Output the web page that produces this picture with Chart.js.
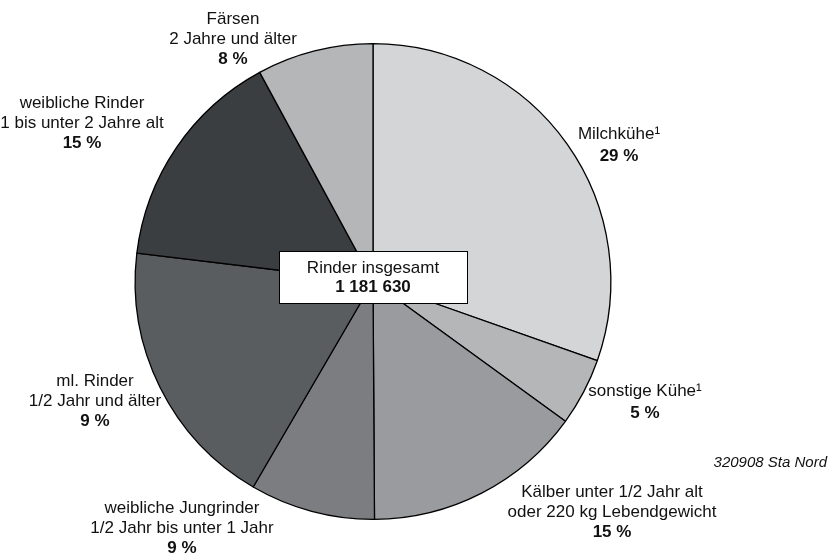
<!DOCTYPE html>
<html>
<head>
<meta charset="utf-8">
<script src="https://cdn.jsdelivr.net/npm/chart.js@4/dist/chart.umd.min.js"></script>
<style>
  html, body { margin: 0; padding: 0; background: #ffffff; }
  #wrap { width: 830px; height: 556px; position: relative; }
</style>
</head>
<body>
<div id="wrap"><canvas id="c" width="830" height="556"></canvas></div>
<script>
// ---- data ----
const categories = [
  'Milchkühe¹',
  'sonstige Kühe¹',
  'Kälber unter 1/2 Jahr alt oder 220 kg Lebendgewicht',
  'weibliche Jungrinder 1/2 Jahr bis unter 1 Jahr',
  'ml. Rinder 1/2 Jahr und älter',
  'weibliche Rinder 1 bis unter 2 Jahre alt',
  'Färsen 2 Jahre und älter'
];
const labelLines = [
  ['Milchkühe¹'],
  ['sonstige Kühe¹'],
  ['Kälber unter 1/2 Jahr alt', 'oder 220 kg Lebendgewicht'],
  ['weibliche Jungrinder', '1/2 Jahr bis unter 1 Jahr'],
  ['ml. Rinder', '1/2 Jahr und älter'],
  ['weibliche Rinder', '1 bis unter 2 Jahre alt'],
  ['Färsen', '2 Jahre und älter']
];
const sliceShares = [30.4, 4.6, 14.9, 8.5, 18.5, 15.2, 7.9];
const percentLabels = ['29 %', '5 %', '15 %', '9 %', '9 %', '15 %', '8 %'];
const totalTitle = 'Rinder insgesamt';
const totalValue = '1 181 630';
const sourceNote = '320908 Sta Nord';

// ---- styles / layout ----
const sliceColors = ['#d4d5d7', '#b4b6b8', '#999b9e', '#7c7d80', '#5a5d60', '#3b3e41', '#b4b6b8'];
const FONT = '"Liberation Sans", Arial, sans-serif';
const FS = 17;
// label anchor: [centerX, firstLineCenterY, lineHeight]
const labelAnchors = [
  [619, 134, 22],
  [645, 391, 22],
  [612, 492, 20],
  [182, 508, 20],
  [95, 381, 20],
  [82, 103, 20],
  [233, 19, 20]
];

const labelPlugin = {
  id: 'labels',
  afterDraw(chart) {
    const ctx = chart.ctx;
    ctx.save();
    ctx.fillStyle = '#111';
    ctx.textAlign = 'center';
    ctx.textBaseline = 'middle';
    labelLines.forEach((lines, i) => {
      const [x, y, lh] = labelAnchors[i];
      ctx.font = FS + 'px ' + FONT;
      lines.forEach((t, k) => ctx.fillText(t, x, y + k * lh));
      ctx.font = 'bold ' + FS + 'px ' + FONT;
      ctx.fillText(percentLabels[i], x, y + lines.length * lh);
    });
    // center box
    const meta = chart.getDatasetMeta(0);
    const arc = meta.data[0];
    const cx = arc.x, cy = arc.y;
    const bw = 188, bh = 52;
    const bx = Math.round(cx - bw / 2) + 0.5, by = Math.round(cy - 31) + 0.5;
    ctx.fillStyle = '#ffffff';
    ctx.fillRect(bx, by, bw, bh);
    ctx.strokeStyle = '#000';
    ctx.lineWidth = 1;
    ctx.strokeRect(bx, by, bw, bh);
    ctx.fillStyle = '#111';
    ctx.font = FS + 'px ' + FONT;
    ctx.fillText(totalTitle, cx, by + 17);
    ctx.font = 'bold ' + FS + 'px ' + FONT;
    ctx.fillText(totalValue, cx, by + 36);
    // source note
    ctx.font = 'italic 15px ' + FONT;
    ctx.textAlign = 'right';
    ctx.fillText(sourceNote, 827, 463);
    ctx.restore();
  }
};

new Chart(document.getElementById('c'), {
  type: 'pie',
  data: {
    labels: categories,
    datasets: [{
      data: sliceShares,
      backgroundColor: sliceColors,
      borderColor: '#000000',
      borderWidth: 1.3
    }]
  },
  options: {
    responsive: false,
    animation: false,
    layout: { padding: { top: 43, bottom: 36, left: 0, right: 84 } },
    plugins: {
      legend: { display: false },
      tooltip: { enabled: false }
    }
  },
  plugins: [labelPlugin]
});
</script>
</body>
</html>
